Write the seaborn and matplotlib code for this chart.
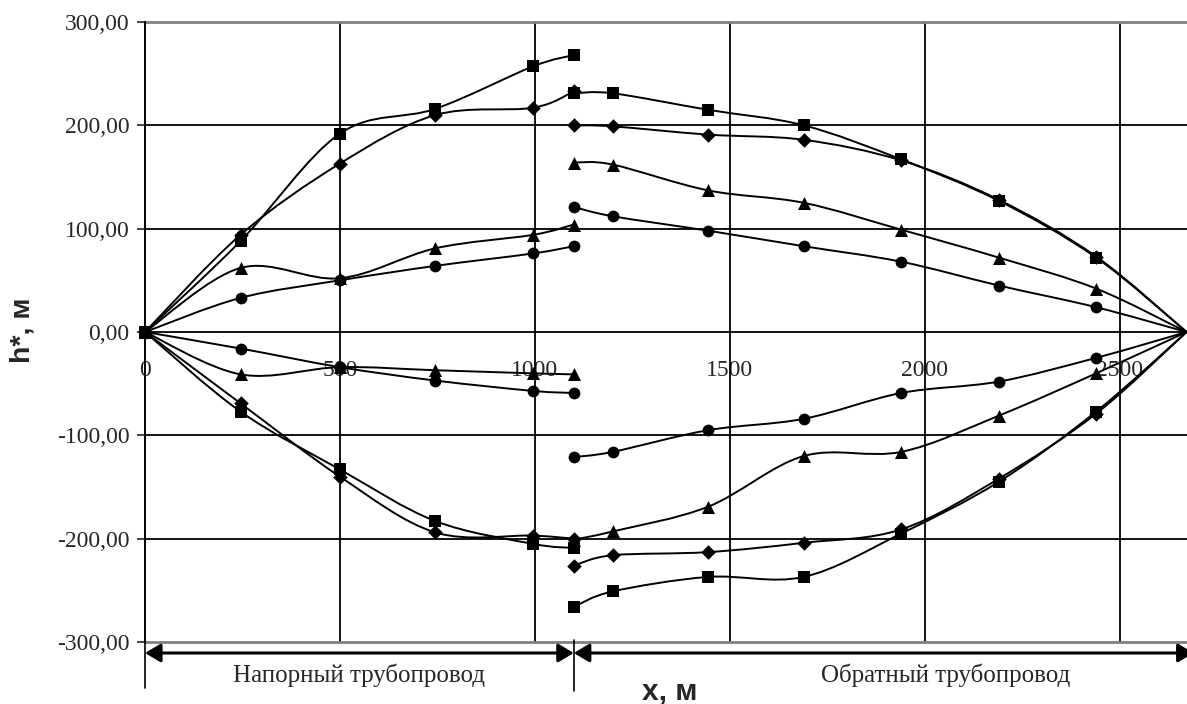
import numpy as np
import pandas as pd
import matplotlib
matplotlib.use("Agg")
import matplotlib.pyplot as plt
from matplotlib.path import Path
from matplotlib.patches import PathPatch
from matplotlib.ticker import FuncFormatter
import seaborn as sns

# Distance along the pipeline, m
x_press = [0, 245, 500, 745, 995, 1100]
x_ret = [1100, 1200, 1445, 1690, 1940, 2190, 2440, 2672]

# Upper envelope of head h*, m — supply (pressure) pipeline
up_press_sq = [0, 88, 192, 216, 257, 268]
up_press_dm = [0, 94, 163, 210, 217, 233]
up_press_tr = [0, 62, 52, 81, 94, 104]
up_press_ci = [0, 33, 50, 64, 76, 83]

# Upper envelope — return pipeline
up_ret_sq = [231, 231, 215, 200, 167, 127, 72, 0]
up_ret_dm = [200, 199, 191, 186, 166, 128, 73, 0]
up_ret_tr = [164, 162, 137, 125, 99, 72, 42, 0]
up_ret_ci = [121, 112, 98, 83, 68, 45, 24, 0]

# Lower envelope — supply (pressure) pipeline
lo_press_sq = [0, -77, -133, -183, -205, -209]
lo_press_dm = [0, -69, -140, -194, -197, -200]
lo_press_tr = [0, -41, -34, -37, -40, -41]
lo_press_ci = [0, -16, -34, -47, -57, -59]

# Lower envelope — return pipeline
lo_ret_sq = [-266, -251, -237, -237, -195, -145, -77, 0]
lo_ret_dm = [-226, -216, -213, -204, -191, -142, -79, 0]
lo_ret_tr = [-201, -193, -169, -120, -116, -81, -40, 0]
lo_ret_ci = [-121, -116, -95, -84, -59, -48, -25, 0]

x_ticks = [0, 500, 1000, 1500, 2000, 2500]
y_ticks = [-300, -200, -100, 0, 100, 200, 300]

curves = [
    ("sq", x_press, up_press_sq), ("dm", x_press, up_press_dm),
    ("tr", x_press, up_press_tr), ("ci", x_press, up_press_ci),
    ("sq", x_ret, up_ret_sq), ("dm", x_ret, up_ret_dm),
    ("tr", x_ret, up_ret_tr), ("ci", x_ret, up_ret_ci),
    ("sq", x_press, lo_press_sq), ("dm", x_press, lo_press_dm),
    ("tr", x_press, lo_press_tr), ("ci", x_press, lo_press_ci),
    ("sq", x_ret, lo_ret_sq), ("dm", x_ret, lo_ret_dm),
    ("tr", x_ret, lo_ret_tr), ("ci", x_ret, lo_ret_ci),
]

sns.set_style("white")
plt.rcParams["font.family"] = ["Liberation Serif", "DejaVu Serif"]

W, H = 1187, 704
fig = plt.figure(figsize=(W / 100, H / 100), dpi=100)
ax = fig.add_axes([145 / W, (H - 642) / H, (W - 145) / W, 620 / H])


def smooth_path(xs, ys):
    """Cubic Bezier path through the points (Catmull-Rom style smoothing)."""
    pts = np.column_stack([xs, ys]).astype(float)
    n = len(pts)
    verts = [pts[0]]
    codes = [Path.MOVETO]
    for i in range(n - 1):
        p0 = pts[i - 1] if i > 0 else pts[i]
        p1 = pts[i]
        p2 = pts[i + 1]
        p3 = pts[i + 2] if i + 2 < n else pts[i + 1]
        c1 = p1 + (p2 - p0) / 6.0
        c2 = p2 - (p3 - p1) / 6.0
        verts += [c1, c2, p2]
        codes += [Path.CURVE4] * 3
    return Path(verts, codes)


for kind, xs, ys in curves:
    ax.add_patch(PathPatch(smooth_path(xs, ys), facecolor="none",
                           edgecolor="black", lw=1.4, zorder=3))

# markers on every node except the closing point at the far end of the loop
rows = []
for kind, xs, ys in curves:
    for xv, yv in zip(xs, ys):
        if xv < x_ret[-1]:
            rows.append({"x": xv, "h": yv, "kind": kind})
df = pd.DataFrame(rows)

marker_map = {"sq": "s", "dm": "D", "tr": "^", "ci": "o"}
size_map = {"sq": 82, "dm": 55, "tr": 88, "ci": 72}
for kind, sub in df.groupby("kind"):
    sns.scatterplot(data=sub, x="x", y="h", marker=marker_map[kind],
                    s=size_map[kind], color="black", edgecolor="black",
                    linewidth=0, ax=ax, zorder=4, legend=False, clip_on=False)

ax.set_xlim(0, 2673)
ax.set_ylim(-300, 300)

# grid
for xv in x_ticks[1:]:
    ax.axvline(xv, color="black", lw=1.3, zorder=1)
for yv in y_ticks[1:-1]:
    ax.axhline(yv, color="black", lw=1.3, zorder=1)
ax.axhline(300, color="#808080", lw=2.0, zorder=1, clip_on=False)
ax.axhline(-300, color="#808080", lw=2.0, zorder=1, clip_on=False)

# axes: x tick labels hang below the zero line
ax.spines["top"].set_visible(False)
ax.spines["right"].set_visible(False)
ax.spines["bottom"].set_position(("data", 0))
ax.spines["bottom"].set_visible(False)
ax.spines["left"].set_color("black")
ax.spines["left"].set_linewidth(1.4)

ax.set_xticks(x_ticks)
ax.set_xticklabels([str(v) for v in x_ticks])
ax.tick_params(axis="x", length=0, pad=20, labelsize=17)
ax.set_yticks(y_ticks)
ax.yaxis.set_major_formatter(FuncFormatter(lambda v, p: f"{v:.2f}".replace(".", ",")))
ax.tick_params(axis="y", direction="out", length=6, width=1.2, pad=5,
               labelsize=17, left=True)
ax.set_xlabel("")
ax.set_ylabel("")

# pipeline section markers under the plot
tr = ax.get_xaxis_transform()
y_arrow = -11 / 620
arrow_style = "<|-|>,head_length=0.47,head_width=0.28"
ax.annotate("", xy=(0, y_arrow), xytext=(1100, y_arrow), xycoords=tr,
            textcoords=tr, annotation_clip=False,
            arrowprops=dict(arrowstyle=arrow_style, color="black", lw=2.2,
                            mutation_scale=20, shrinkA=0, shrinkB=0))
ax.annotate("", xy=(1100, y_arrow), xytext=(2690, y_arrow), xycoords=tr,
            textcoords=tr, annotation_clip=False,
            arrowprops=dict(arrowstyle=arrow_style, color="black", lw=2.2,
                            mutation_scale=20, shrinkA=0, shrinkB=0))
ax.plot([0, 0], [0, -46 / 620], transform=tr, color="black", lw=1.2, clip_on=False)
ax.plot([1100, 1100], [2 / 620, -49 / 620], transform=tr, color="black", lw=1.2,
        clip_on=False)

ax.text(550, -33 / 620, "Напорный трубопровод", transform=tr, ha="center",
        va="center", fontsize=18)
ax.text(2055, -33 / 620, "Обратный трубопровод", transform=tr, ha="center",
        va="center", fontsize=18)
ax.text(1347, -49 / 620, "x, м", transform=tr, ha="center", va="center",
        fontsize=21.5, fontweight="bold", family=["Liberation Sans", "DejaVu Sans"])
fig.text(22 / W, 1 - 330 / H, "h*, м", rotation=90, ha="center", va="center",
         fontsize=20.5, fontweight="bold", family=["Liberation Sans", "DejaVu Sans"])

fig.savefig("out.png", dpi=100)
